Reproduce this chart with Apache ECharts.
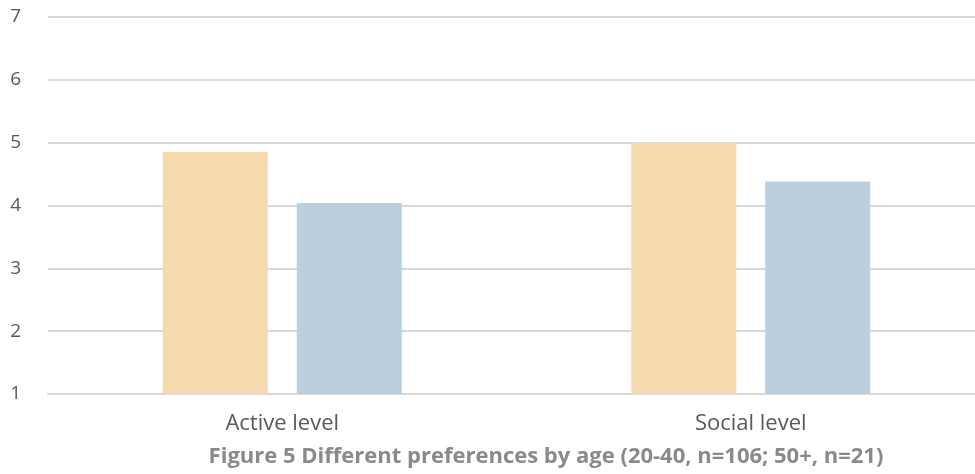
<!DOCTYPE html>
<html>
<head>
<meta charset="utf-8">
<script src="https://cdn.jsdelivr.net/npm/echarts@6/dist/echarts.min.js"></script>
<style>
  html, body { margin: 0; padding: 0; background: #fff; overflow: hidden; }
  /* plot area runs slightly past the right edge of the page */
  #chart { width: 990px; height: 474px; }
</style>
</head>
<body>
<div id="chart"></div>
<script>
// Preference levels by age group
const categories = ['Active level', 'Social level'];
const age20to40 = [4.85, 5.0];
const age50plus = [4.04, 4.38];
const yTicks = [1, 7, 1]; // min, max, step

const chart = echarts.init(document.getElementById('chart'));
chart.setOption({
  animation: false,
  title: {
    text: 'Figure 5 Different preferences by age (20-40, n=106; 50+, n=21)',
    left: 541,
    textAlign: 'center',
    top: 441,
    textStyle: { fontFamily: 'Open Sans', fontWeight: 'bold', fontSize: 22, color: '#8a8a8a' }
  },
  grid: { left: 48, top: 17, width: 937, height: 377 },
  xAxis: {
    type: 'category',
    data: categories,
    axisLine: { lineStyle: { color: '#d9d9d9', width: 2 } },
    axisTick: { show: false },
    axisLabel: { fontFamily: 'Open Sans', fontSize: 22, color: '#595959', margin: 19 }
  },
  yAxis: {
    type: 'value',
    min: yTicks[0], max: yTicks[1], interval: yTicks[2],
    axisLine: { show: false },
    axisTick: { show: false },
    splitLine: { lineStyle: { color: '#d9d9d9', width: 2 } },
    axisLabel: { fontFamily: 'Open Sans', fontSize: 19, color: '#595959', margin: 27 }
  },
  series: [
    {
      name: '20-40', type: 'bar', data: age20to40,
      barWidth: 105, barGap: '27.6%',
      itemStyle: { color: '#f6d9ae' }
    },
    {
      name: '50+', type: 'bar', data: age50plus,
      barWidth: 105,
      itemStyle: { color: '#bbd0de' }
    }
  ]
});
</script>
</body>
</html>
